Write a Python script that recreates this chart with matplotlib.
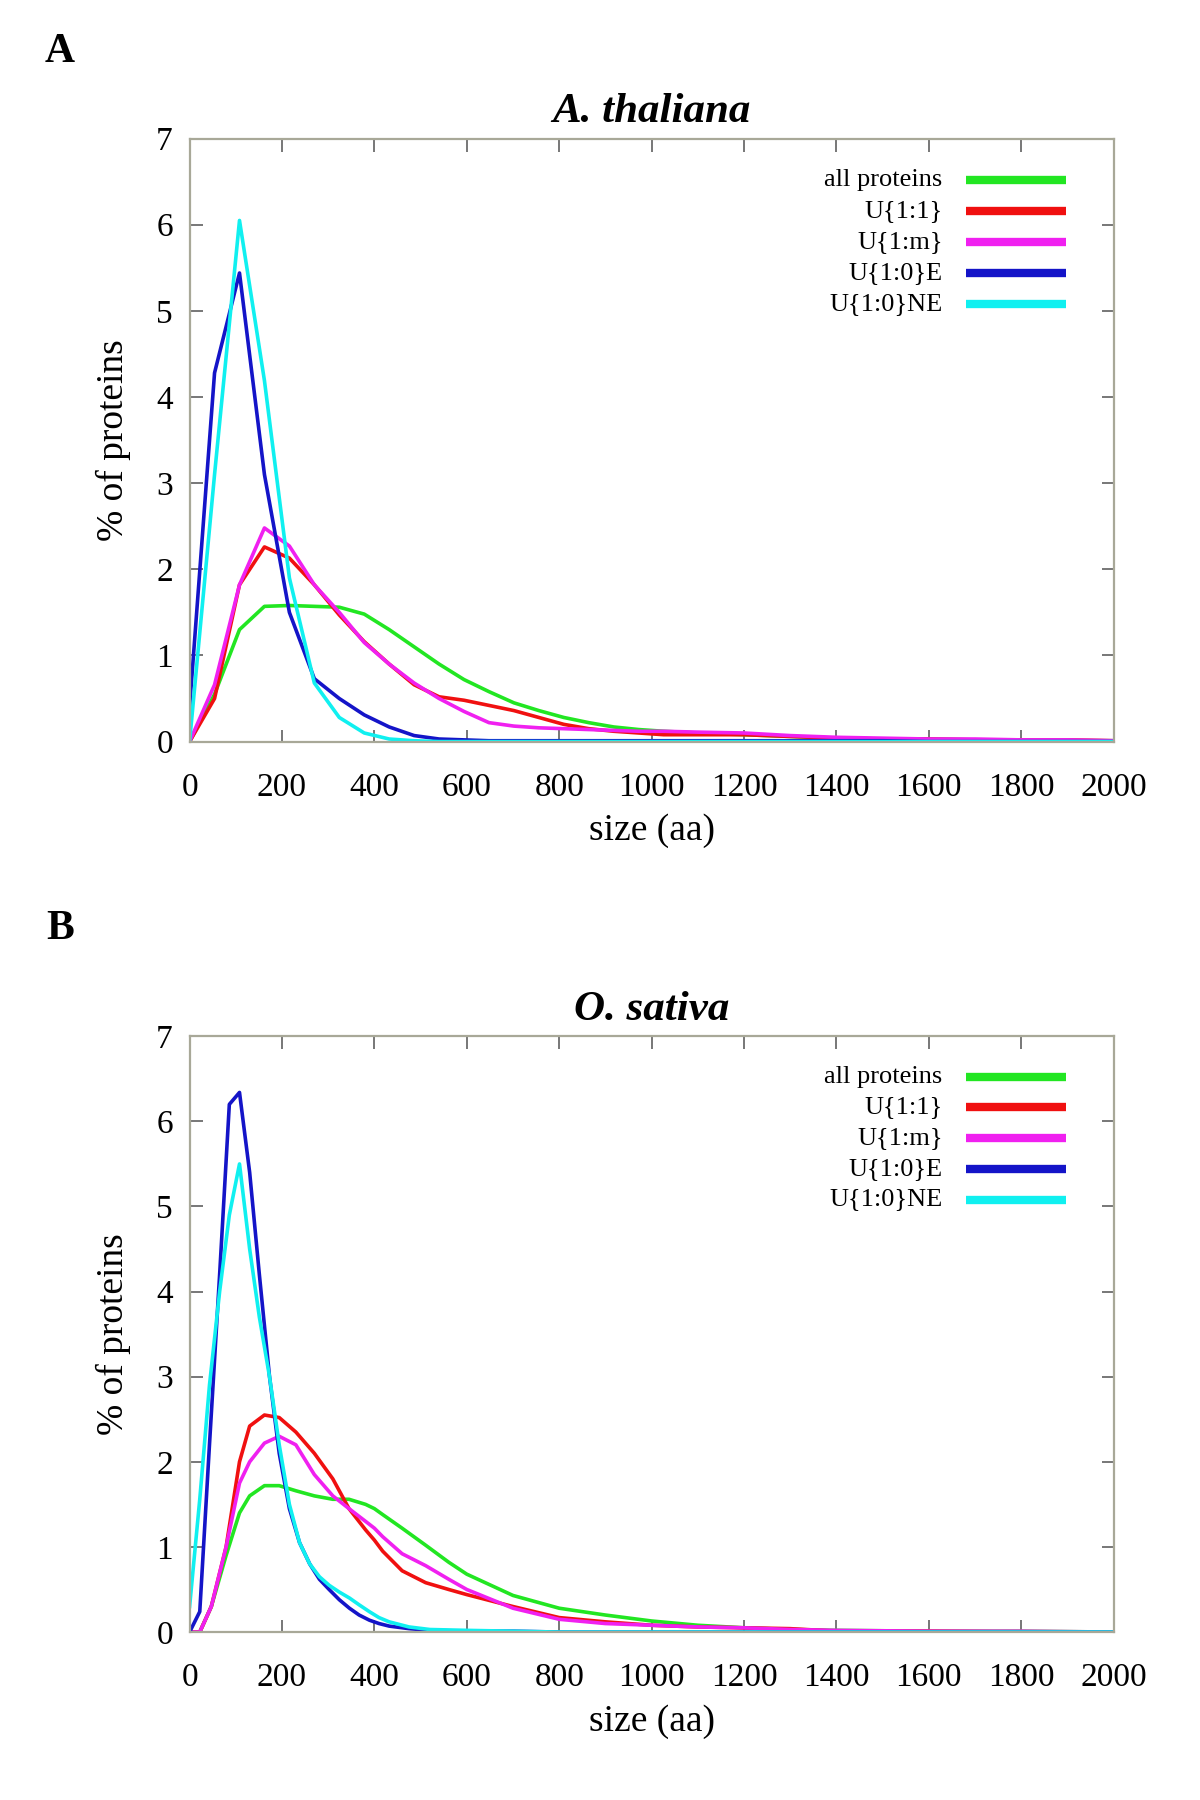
import matplotlib.pyplot as plt
import numpy as np

plt.rcParams['font.family'] = ['Liberation Serif', 'DejaVu Serif']

names = ['all proteins', 'U{1:1}', 'U{1:m}', 'U{1:0}E', 'U{1:0}NE']
colors = ['#22e622', '#f01010', '#f020f0', '#1414c8', '#10f0f0']

# panel A: A. thaliana
xa_head = [0, 54, 108, 162, 216, 270, 324, 378, 432, 486, 540, 594, 648, 702, 756, 810, 864, 918, 972, 1026]
xa_tail = [1100, 1200, 1300, 1400, 1500, 1600, 1700, 1800, 1900, 2000]
xa = xa_head + xa_tail
a_all = [0, 0.55, 1.3, 1.57, 1.58, 1.57, 1.56, 1.48, 1.3, 1.1, 0.9, 0.72, 0.58, 0.45, 0.36, 0.28, 0.22, 0.17, 0.14, 0.12,
         0.1, 0.08, 0.06, 0.04, 0.03, 0.03, 0.02, 0.02, 0.01, 0.01]
a_11 = [0, 0.5, 1.82, 2.26, 2.13, 1.82, 1.47, 1.16, 0.9, 0.66, 0.52, 0.48, 0.42, 0.36, 0.28, 0.2, 0.15, 0.12, 0.1, 0.08,
        0.08, 0.08, 0.06, 0.04, 0.03, 0.03, 0.02, 0.02, 0.02, 0.01]
a_1m = [0, 0.66, 1.82, 2.48, 2.27, 1.82, 1.5, 1.15, 0.9, 0.68, 0.5, 0.35, 0.22, 0.18, 0.16, 0.15, 0.14, 0.13, 0.12, 0.12,
        0.11, 0.1, 0.07, 0.05, 0.04, 0.03, 0.03, 0.02, 0.02, 0.01]
a_10e = [0.4, 4.28, 5.44, 3.1, 1.5, 0.73, 0.5, 0.31, 0.17, 0.07, 0.03, 0.02, 0.01, 0.01, 0.01, 0.01, 0.01, 0.01, 0.01, 0.01,
         0.01, 0.01, 0.01, 0.01, 0.01, 0.0, 0.0, 0.0, 0.0, 0.0]
a_10ne = [0, 3.1, 6.05, 4.19, 1.9, 0.68, 0.28, 0.1, 0.03, 0.01, 0.0, 0.0, 0.0, 0.0, 0.0, 0.0, 0.0, 0.0, 0.0, 0.0,
          0.0, 0.0, 0.0, 0.0, 0.0, 0.0, 0.0, 0.0, 0.0, 0.0]

# panel B: O. sativa
xb_fine = [0, 22, 43, 65, 86, 108, 130, 151, 173, 194, 216, 238, 260, 281, 302, 324, 346, 367, 389, 410, 432, 475, 520, 600,
           700, 800, 900, 1000, 1100, 1200, 1300, 1400, 1600, 1800, 2000]
b_10e = [0, 0.24, 2.2, 4.2, 6.2, 6.34, 5.4, 4.2, 3.0, 2.1, 1.45, 1.05, 0.8, 0.62, 0.5, 0.38, 0.28, 0.2, 0.14, 0.1, 0.07,
         0.04, 0.02, 0.01, 0.01, 0.0, 0.0, 0.0, 0.0, 0.0, 0.0, 0.0, 0.0, 0.0, 0.0]
b_10ne = [0.3, 1.56, 2.9, 4.0, 4.9, 5.5, 4.5, 3.7, 3.0, 2.2, 1.5, 1.05, 0.8, 0.65, 0.55, 0.47, 0.4, 0.32, 0.24, 0.17, 0.12,
          0.06, 0.03, 0.02, 0.01, 0.0, 0.0, 0.0, 0.0, 0.0, 0.0, 0.0, 0.0, 0.0, 0.0]
xb = [0, 22, 47, 79, 108, 130, 162, 194, 230, 270, 310, 345, 381, 400, 418, 460, 511, 561, 600, 700, 800, 900, 1000, 1100,
      1200, 1300, 1400, 1600, 1800, 2000]
b_all = [0, 0, 0.3, 0.9, 1.4, 1.6, 1.72, 1.72, 1.66, 1.6, 1.56, 1.56, 1.5, 1.45, 1.38, 1.22, 1.02, 0.82, 0.68, 0.43, 0.28,
         0.2, 0.13, 0.08, 0.05, 0.03, 0.02, 0.01, 0.01, 0.0]
b_11 = [0, 0, 0.3, 1.0, 2.0, 2.42, 2.55, 2.52, 2.35, 2.1, 1.8, 1.45, 1.2, 1.08, 0.95, 0.72, 0.58, 0.5, 0.44, 0.3, 0.17,
        0.12, 0.08, 0.06, 0.05, 0.04, 0.01, 0.01, 0.0, 0.0]
b_1m = [0, 0, 0.3, 1.0, 1.75, 2.0, 2.22, 2.3, 2.2, 1.85, 1.6, 1.45, 1.3, 1.22, 1.12, 0.92, 0.78, 0.62, 0.5, 0.28, 0.15,
        0.1, 0.08, 0.06, 0.05, 0.03, 0.02, 0.01, 0.01, 0.0]

panels = [
    ('A', 'A. thaliana', [(xa, a_all), (xa, a_11), (xa, a_1m), (xa, a_10e), (xa, a_10ne)],
     [0.158, 0.588, 0.770, 0.335], 0.971),
    ('B', 'O. sativa', [(xb, b_all), (xb, b_11), (xb, b_1m), (xb_fine, b_10e), (xb_fine, b_10ne)],
     [0.158, 0.0933, 0.770, 0.331], 0.484),
]

fig = plt.figure(figsize=(12, 18), dpi=100)

for letter, title, series, rect, letter_y in panels:
    ax = fig.add_axes(rect)
    for (x, y), c in zip(series, colors):
        ax.plot(x, y, color=c, lw=2.6)
    ax.set_xlim(0, 2000)
    ax.set_ylim(0, 7)
    ax.set_xticks(np.arange(0, 2001, 200))
    ax.set_yticks(np.arange(0, 8, 1))
    ax.tick_params(direction='in', length=9, width=1.2, color='#606060',
                   top=True, right=True, labelsize=24)
    ax.tick_params(axis='x', pad=22)
    ax.tick_params(axis='y', pad=12)
    for s in ax.spines.values():
        s.set_color('#a8a898')
        s.set_linewidth(1.6)
    ax.set_xlabel('size (aa)', fontsize=27, labelpad=8)
    ax.set_ylabel('% of proteins', fontsize=27, labelpad=18)
    ax.set_title(title, fontsize=31, fontweight='bold', style='italic', pad=12)
    fig.text(0.05, letter_y, letter, fontsize=30, fontweight='bold', ha='center', va='center')

    # legend drawn by hand: right-aligned labels, sample line to the right
    for i, (name, c) in enumerate(zip(names, colors)):
        yy = 0.932 - i * 0.0515
        ax.text(0.815, yy, name, transform=ax.transAxes, fontsize=19, ha='right', va='center')
        ax.plot([0.84, 0.948], [yy, yy], transform=ax.transAxes, color=c, lw=6, solid_capstyle='butt')

fig.savefig('out.png', dpi=100)
